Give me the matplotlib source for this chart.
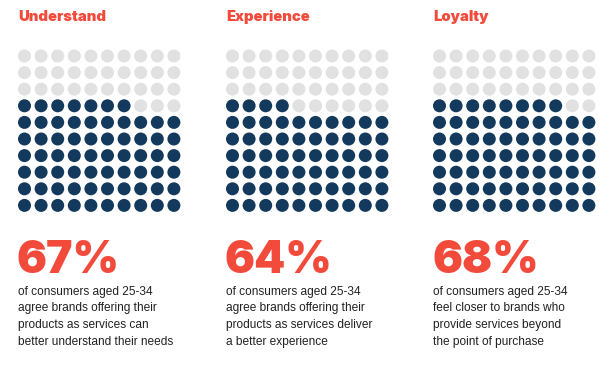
import numpy as np
import matplotlib.pyplot as plt
from matplotlib.patches import Circle

# data
titles = ['Understand', 'Experience', 'Loyalty']
percents = [67, 64, 68]
captions = [
    'of consumers aged 25-34\nagree brands offering their\nproducts as services can\nbetter understand their needs',
    'of consumers aged 25-34\nagree brands offering their\nproducts as services deliver\na better experience',
    'of consumers aged 25-34\nfeel closer to brands who\nprovide services beyond\nthe point of purchase',
]

RED = '#f24a3b'
NAVY = '#133a5c'
GREY = '#e1e1e1'

panel_x = [18, 226, 433]   # left edge of each panel in pixels
step = 16.6
rad = 6.5

fig = plt.figure(figsize=(6.16, 3.76), dpi=100)
ax = fig.add_axes([0, 0, 1, 1])
ax.set_xlim(0, 616)
ax.set_ylim(376, 0)
ax.axis('off')

for x0, title, pct, cap in zip(panel_x, titles, percents, captions):
    ax.text(x0, 21, title, color=RED, fontsize=10.6, fontweight=900,
            family='Inter', va='baseline', ha='left')
    # waffle, filled from the bottom row, left to right
    for k in range(100):
        row = 9 - k // 10
        col = k % 10
        c = NAVY if k < pct else GREY
        ax.add_patch(Circle((x0 + rad + col * step, 56 + row * step), rad,
                            color=c, lw=0))
    ax.text(x0 - 1, 273, f'{pct}%', color=RED, fontsize=32, fontweight=900,
            family='Inter', va='baseline', ha='left')
    ax.text(x0, 285.5, cap, color='#222222', fontsize=8.6, family='Liberation Sans',
            va='top', ha='left', linespacing=1.55)

plt.savefig('out.png', dpi=100)
